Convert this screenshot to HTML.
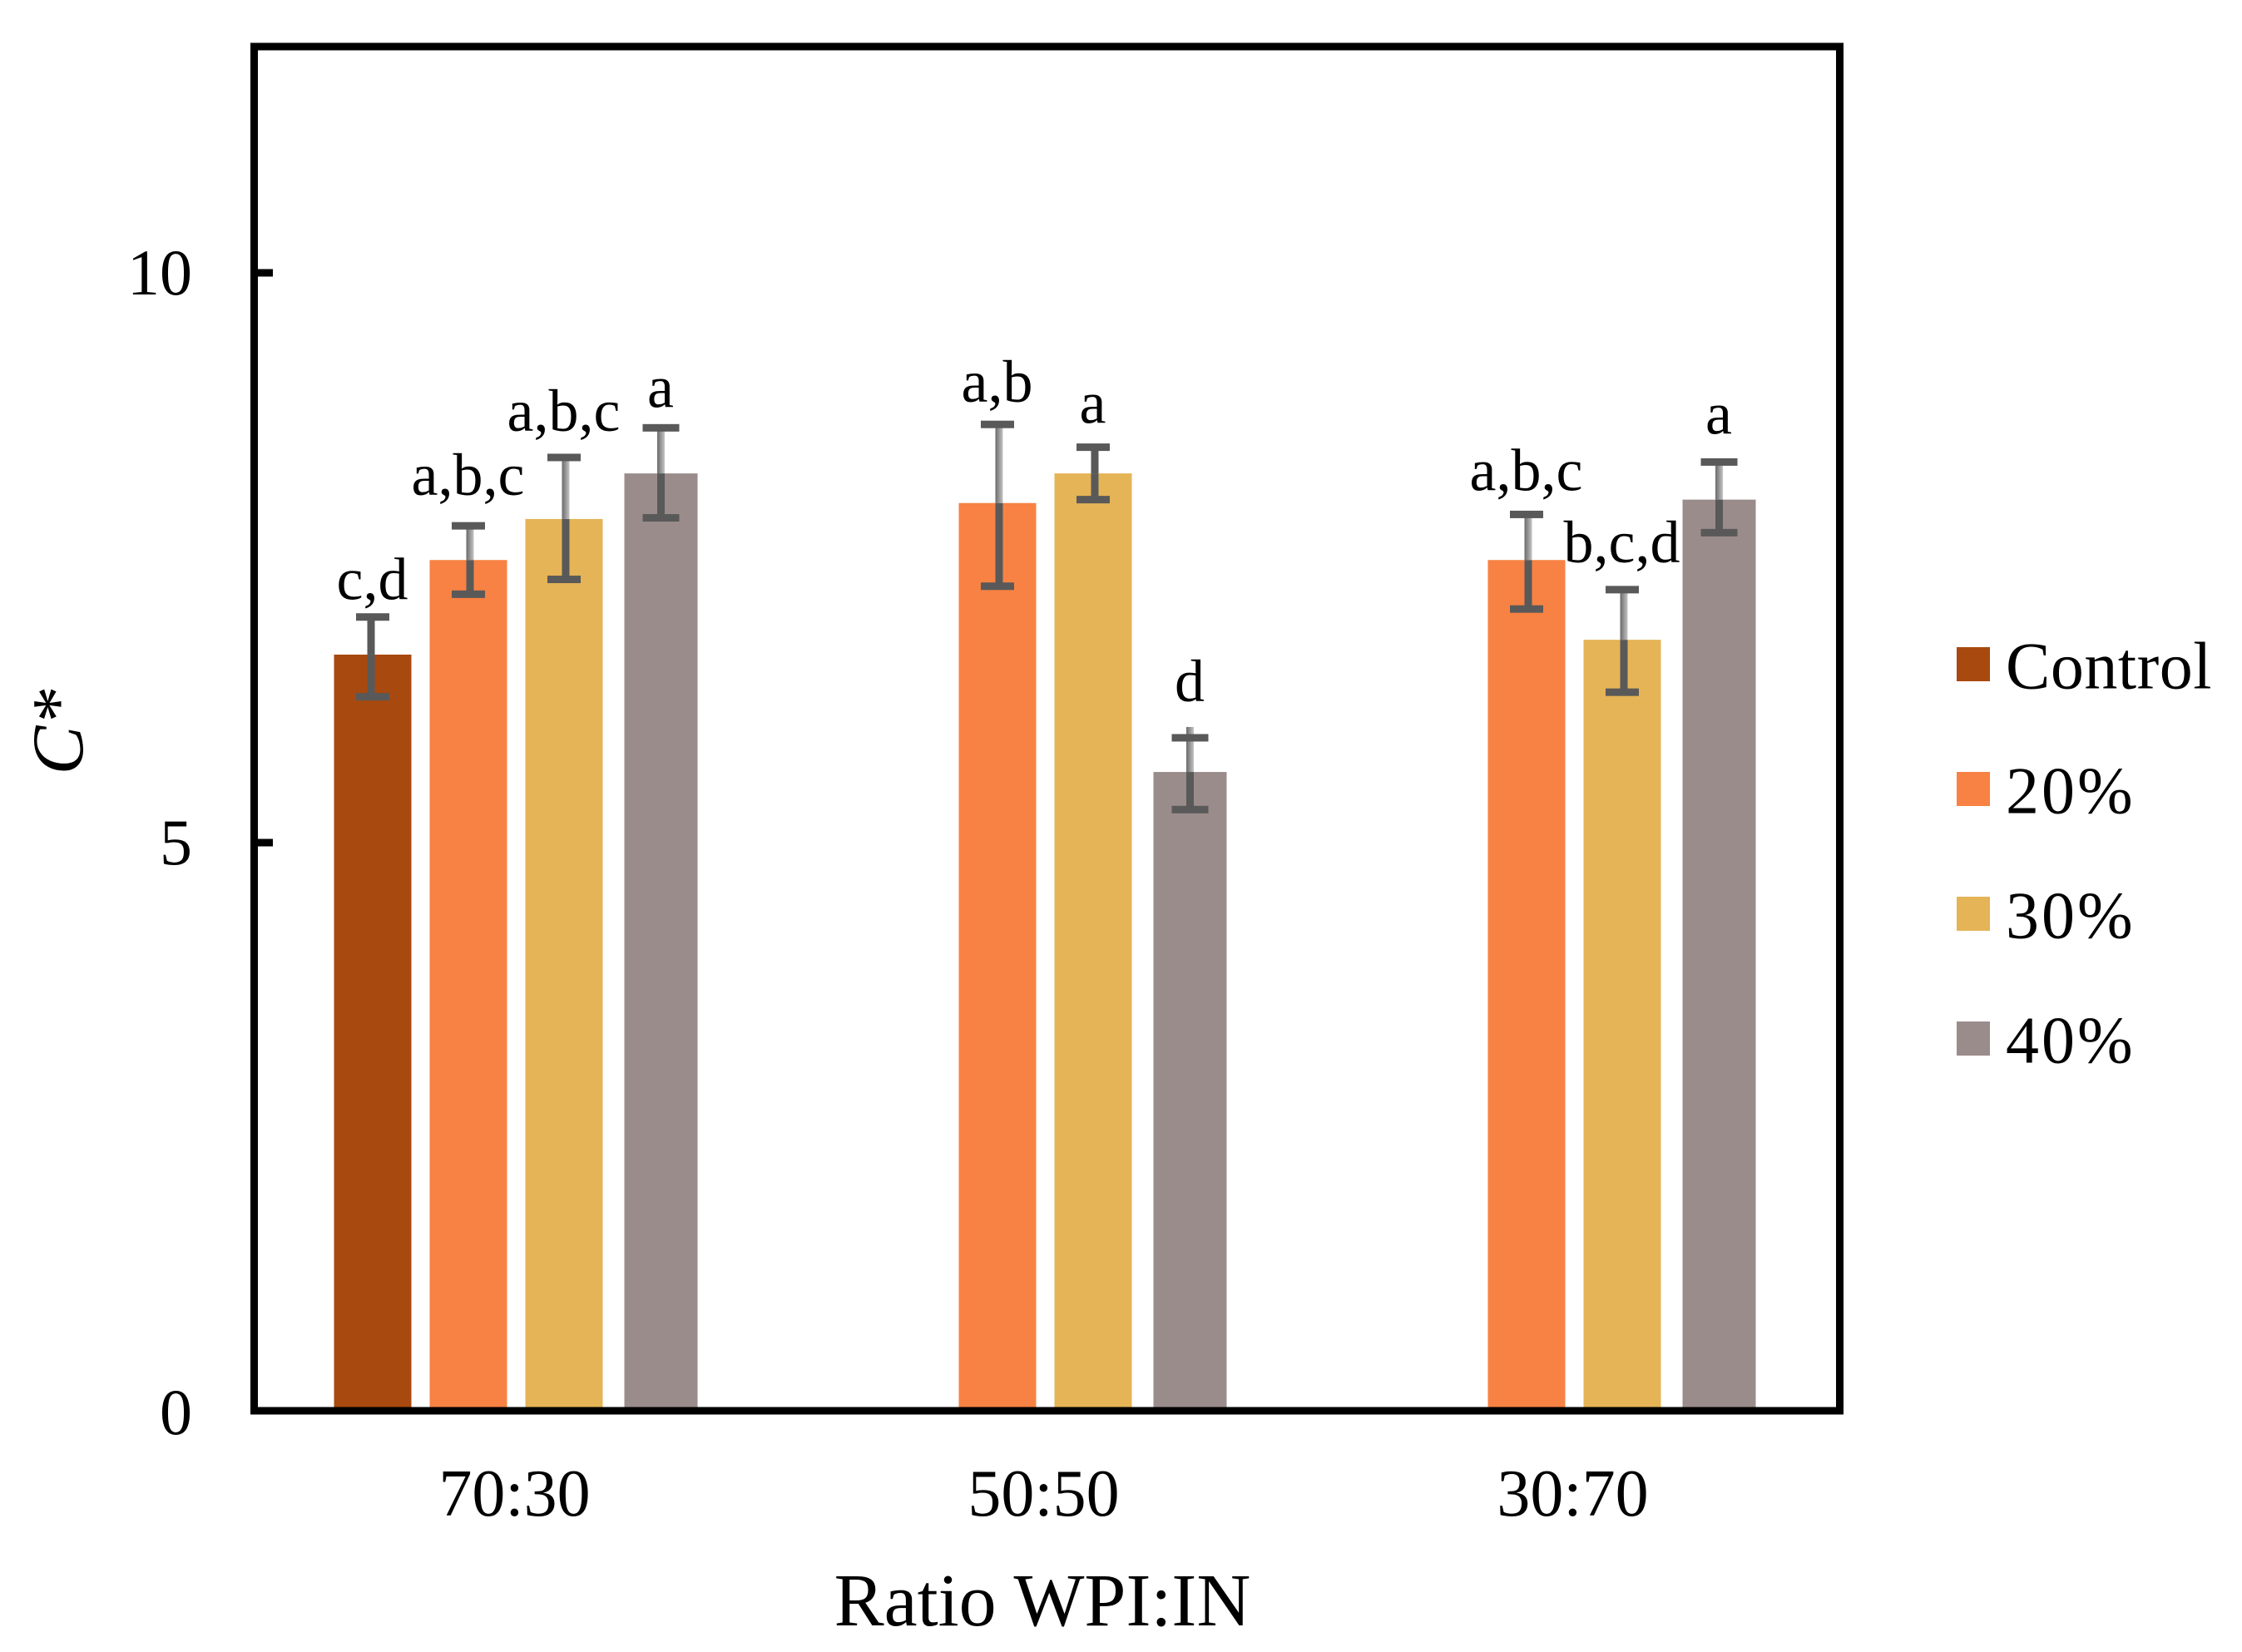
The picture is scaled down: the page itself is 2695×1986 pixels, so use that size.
<!DOCTYPE html>
<html lang="en">
<head>
<meta charset="utf-8">
<title>C* by Ratio WPI:IN</title>
<style>
  html, body { margin: 0; padding: 0; background: #ffffff; }
  svg { display: block; }
  text { font-family: "Liberation Serif", "Times New Roman", serif; fill: #000000; }
</style>
</head>
<body>
<svg id="chart" xmlns="http://www.w3.org/2000/svg" width="2695" height="1986" viewBox="0 0 2695 1986">
  <defs>
    <linearGradient id="stem-fade" x1="0" y1="0" x2="1" y2="0">
      <stop offset="0" stop-color="#6a6a6a"></stop>
      <stop offset="1" stop-color="#c4c4c4"></stop>
    </linearGradient>
  </defs>
  <rect x="0" y="0" width="2695" height="1986" fill="#ffffff"></rect>
</svg>
<script>
const categories = ["70:30", "50:50", "30:70"];
const seriesNames = ["Control", "20%", "30%", "40%"];
const seriesColors = ["#a8490f", "#f88243", "#e5b456", "#9b8c8c"];
const controlValues = [6.65, null, null];
const pct20Values = [7.48, 7.98, 7.48];
const pct30Values = [7.84, 8.24, 6.78];
const pct40Values = [8.24, 5.62, 8.01];
const controlUpper = [6.98, null, null];
const pct20Upper = [7.78, 8.67, 7.88];
const pct30Upper = [8.38, 8.47, 7.22];
const pct40Upper = [8.64, 5.92, 8.34];
const controlLower = [6.28, null, null];
const pct20Lower = [7.18, 7.25, 7.05];
const pct30Lower = [7.31, 8.01, 6.32];
const pct40Lower = [7.85, 5.29, 7.72];
const controlLetters = ["c,d", "", ""];
const pct20Letters = ["a,b,c", "a,b", "a,b,c"];
const pct30Letters = ["a,b,c", "a", "b,c,d"];
const pct40Letters = ["a", "d", "a"];
const yTickValues = [0, 5, 10];
const yTickLabels = ["0", "5", "10"];
const xAxisTitle = "Ratio WPI:IN";

const seriesValues = [controlValues, pct20Values, pct30Values, pct40Values];
const seriesUpper = [controlUpper, pct20Upper, pct30Upper, pct40Upper];
const seriesLower = [controlLower, pct20Lower, pct30Lower, pct40Lower];
const seriesLetters = [controlLetters, pct20Letters, pct30Letters, pct40Letters];

const svg = document.getElementById('chart');
const NS = 'http://www.w3.org/2000/svg';

function yScale(v) { return 1698 - 137 * v; }
function xBand(i) { return 304.5 + 636 * (i + 0.5); }
function barLeft(i, s) { return xBand(i) - 221 + s * 115 + (s === 3 ? 4 : 0); }
function barWidth(s) { return s === 3 ? 88 : 93; }

function make(tag, attrs, parent) {
  const el = document.createElementNS(NS, tag);
  for (const k in attrs) el.setAttribute(k, attrs[k]);
  (parent || svg).appendChild(el);
  return el;
}

// bars
seriesValues.forEach(function (vals, s) {
  vals.forEach(function (v, i) {
    if (v === null) return;
    const bar = make('rect', { x: barLeft(i, s), y: yScale(v), width: barWidth(s), height: yScale(0) - yScale(v), fill: seriesColors[s] });
    
    
  });
});

// error bars and significance letters
const stemNudge = [-2, 2, 2, 0];
const labelLift = [[21, 0, 0], [37, 27, 29], [32, 29, 33], [25, 44, 34]];
seriesValues.forEach(function (vals, s) {
  vals.forEach(function (v, i) {
    if (v === null) return;
    const cx = barLeft(i, s) + barWidth(s) / 2;
    const stemX = cx + stemNudge[s];
    const capW = s === 3 ? 44 : 40;
    const yTop = yScale(seriesUpper[s][i]);
    const yBot = yScale(seriesLower[s][i]);
    const yBar = yScale(v);
    const darkTop = (s === 0) || (s === 2 && i === 1);
    const overshoot = (s === 3 && i === 1) ? 13 : 0;

    const g = make('g', {});
    
    

    make('rect', { x: stemX - 4.5, y: yBar, width: 9, height: yBot - yBar, fill: '#595959' }, g);
    make('rect', { x: stemX - 4.5, y: yTop - overshoot, width: 9, height: yBar - yTop + overshoot, fill: darkTop ? '#595959' : 'url(#stem-fade)' }, g);
    make('rect', { x: cx - capW / 2, y: yTop - 4.5, width: capW, height: 9, fill: '#595959' }, g);
    make('rect', { x: cx - capW / 2, y: yBot - 4.5, width: capW, height: 9, fill: '#595959' }, g);

    const label = make('text', { x: cx - 0.5, y: yTop - labelLift[s][i], 'text-anchor': 'middle', 'font-size': 72 });
    
    
    label.textContent = seriesLetters[s][i];
  });
});

// plot frame
const frame = make('rect', { x: 305.5, y: 56, width: 1906, height: 1640, fill: 'none', stroke: '#000000', 'stroke-width': 9 });



// y ticks (the zero tick coincides with the bottom edge of the frame)
yTickValues.forEach(function (t, i) {
  if (t !== 0) {
    const tick = make('rect', { x: 305, y: yScale(t) - 4.5, width: 23, height: 9, fill: '#000000' });
    
    
  }
  const lbl = make('text', { x: 231, y: yScale(t) + 26, 'text-anchor': 'end', 'font-size': 78 });
  
  
  lbl.textContent = yTickLabels[i];
});

// x labels
categories.forEach(function (c, i) {
  const lbl = make('text', { x: xBand(i) - 4, y: 1822, 'text-anchor': 'middle', 'font-size': 80 });
  
  
  lbl.textContent = c;
});

// axis titles
const xTitle = make('text', { x: 1253, y: 1954, 'text-anchor': 'middle', 'font-size': 90 });


xTitle.textContent = xAxisTitle;

const yTitle = make('text', { x: 0, y: 0, 'text-anchor': 'middle', 'font-size': 88, 'font-style': 'italic', transform: 'translate(99 880) rotate(-90)' });


yTitle.textContent = 'C*';

// legend
seriesNames.forEach(function (name, s) {
  const rowY = 778 + s * 150;
  const g = make('g', {});
  
  
  make('rect', { x: 2352, y: rowY, width: 40, height: 41, fill: seriesColors[s] }, g);
  const t = make('text', { x: 2411, y: rowY + 49.5, 'font-size': 80, 'letter-spacing': s === 0 ? 0.5 : 3 }, g);
  t.textContent = name;
});
</script>
</body>
</html>
